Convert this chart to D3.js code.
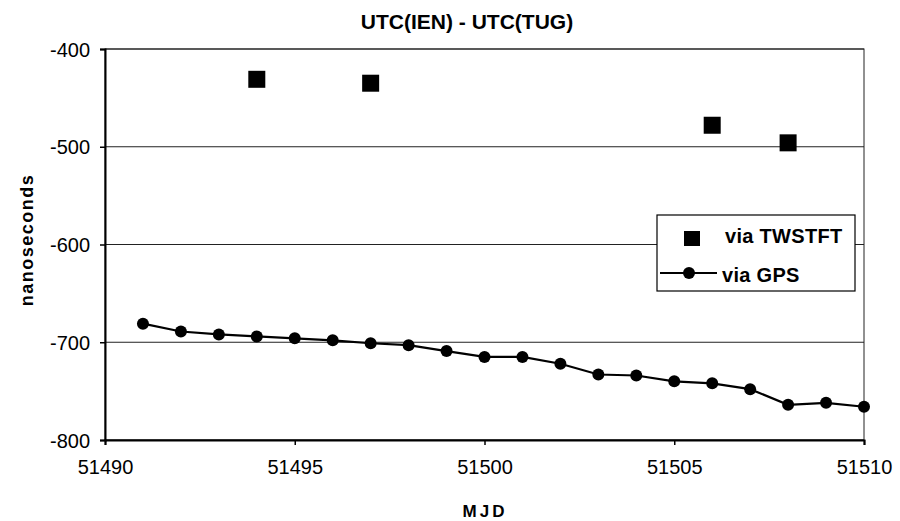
<!DOCTYPE html>
<html><head><meta charset="utf-8">
<script src="https://cdn.jsdelivr.net/npm/d3@7"></script>
<style>body{margin:0;background:#fff}svg{font-family:"Liberation Sans",Arial,sans-serif}</style>
</head><body>
<svg id="c" width="900" height="521"></svg>
<script>
const gpsMJD = [51491,51492,51493,51494,51495,51496,51497,51498,51499,51500,51501,51502,51503,51504,51505,51506,51507,51508,51509,51510];
const gpsValues = [-681,-689,-692,-694,-696,-698,-701,-703,-709,-715,-715,-722,-733,-734,-740,-742,-748,-764,-762,-766];
const twMJD = [51494,51497,51506,51508];
const twValues = [-431,-435,-478,-496];
const xTicks = [51490,51495,51500,51505,51510];
const yTicks = [-400,-500,-600,-700,-800];
const title = "UTC(IEN) - UTC(TUG)";
const xTitle = "MJD";
const yTitle = "nanoseconds";
const legendLabels = ["via TWSTFT","via GPS"];

const svg = d3.select("#c");
const L=105,R=864,T=49,B=440;
const x = d3.scaleLinear().domain([51490,51510]).range([L,R]);
const y = d3.scaleLinear().domain([-800,-400]).range([B,T]);

// gridlines
svg.append("g").selectAll("line").data(yTicks).join("line")
  .attr("x1",L).attr("x2",R).attr("y1",d=>y(d)).attr("y2",d=>y(d))
  .attr("stroke","#222").attr("stroke-width",1.2);
// frame
svg.append("rect").attr("x",L).attr("y",T).attr("width",R-L).attr("height",B-T)
  .attr("fill","none").attr("stroke","#222").attr("stroke-width",1);

const fmt = d => String(d);
const yAxis = svg.append("g").attr("transform",`translate(${L},0)`)
  .call(d3.axisLeft(y).tickValues(yTicks).tickSize(5).tickPadding(10).tickFormat(fmt));
const xAxis = svg.append("g").attr("transform",`translate(0,${B})`)
  .call(d3.axisBottom(x).tickValues(xTicks).tickSize(5).tickPadding(15).tickFormat(fmt));
[yAxis,xAxis].forEach(g=>{
  g.select(".domain").attr("stroke","#000").attr("stroke-width",2);
  g.selectAll(".tick line").attr("stroke","#000").attr("stroke-width",1.5);
  g.selectAll("text").attr("font-family","'Liberation Sans',Arial,sans-serif")
    .attr("font-size",20).attr("fill","#000");
});
yAxis.selectAll("text").attr("dy","0.35em");

// GPS line
const gps = gpsMJD.map((m,i)=>({m,v:gpsValues[i]}));
svg.append("path").datum(gps)
  .attr("d",d3.line().x(d=>x(d.m)).y(d=>y(d.v)))
  .attr("fill","none").attr("stroke","#000").attr("stroke-width",2.2);
svg.append("g").selectAll("circle").data(gps).join("circle")
  .attr("cx",d=>x(d.m)).attr("cy",d=>y(d.v)).attr("r",6).attr("fill","#000");

// TWSTFT squares
const tw = twMJD.map((m,i)=>({m,v:twValues[i]}));
const s=17;
svg.append("g").selectAll("rect").data(tw).join("rect")
  .attr("x",d=>x(d.m)-s/2).attr("y",d=>y(d.v)-s/2).attr("width",s).attr("height",s).attr("fill","#000");

// titles
svg.append("text").attr("x",467).attr("y",28.5).attr("text-anchor","middle")
  .attr("font-size",21).attr("font-weight","bold").text(title);
svg.append("text").attr("x",485).attr("y",517).attr("text-anchor","middle")
  .attr("font-size",17).attr("font-weight","bold").attr("letter-spacing","3px").text(xTitle);
svg.append("text").attr("transform","translate(33,240) rotate(-90)").attr("text-anchor","middle")
  .attr("font-size",18).attr("font-weight","bold").attr("letter-spacing","1.5px").text(yTitle);

// legend
const lg = svg.append("g");
lg.append("rect").attr("x",657).attr("y",215).attr("width",198).attr("height",76)
  .attr("fill","#fff").attr("stroke","#000").attr("stroke-width",1.2);
lg.append("rect").attr("x",692-8).attr("y",238.5-7.5).attr("width",16).attr("height",15).attr("fill","#000");
lg.append("line").attr("x1",660).attr("x2",717).attr("y1",273).attr("y2",273).attr("stroke","#000").attr("stroke-width",2.2);
lg.append("circle").attr("cx",689).attr("cy",273).attr("r",6).attr("fill","#000");
lg.selectAll("text.l").data(legendLabels).join("text").attr("class","l")
  .attr("x",(d,i)=>i===0?725:722).attr("y",(d,i)=>i===0?243:282)
  .attr("font-size",20).attr("font-weight","bold").attr("letter-spacing","0.3px").text(d=>d);
</script>
</body></html>
